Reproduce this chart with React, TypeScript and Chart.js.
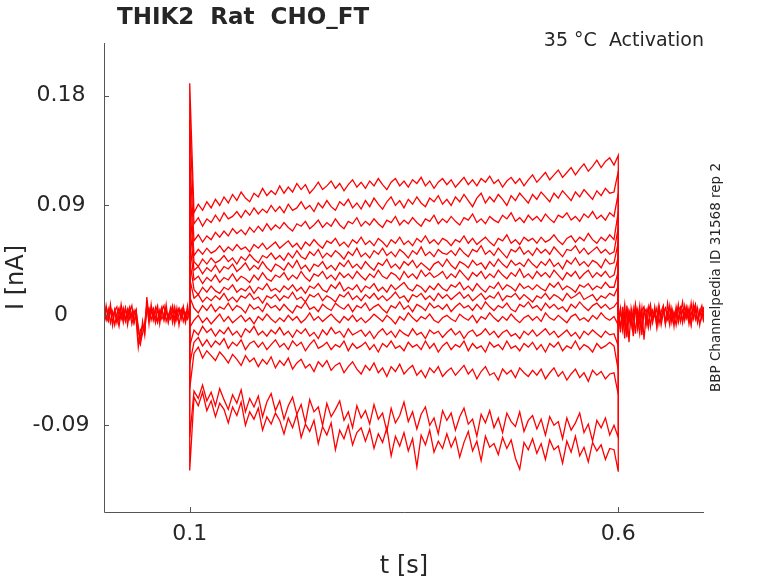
import React, { useEffect, useRef } from 'react';
import Chart from 'chart.js/auto';

// axis ticks
const xTicks = [0.1, 0.6];
const xTickLabels = ['0.1', '0.6'];
const yTicks = [-0.09, 0, 0.09, 0.18];
const yTickLabels = ['-0.09', '0', '0.09', '0.18'];

// sampling grids (s)
const preTimes = Array.from({ length: 41 }, (_, i) => i * 0.0025);
const postTimes = Array.from({ length: 41 }, (_, i) => 0.6 + i * 0.0025);
const stepTimes = Array.from({ length: 99 }, (_, i) => 0.105 + i * 0.005);

// all currents below in pA
const preA = [2, -4, 5, -6, 3, -8, 1, 6, -3, 4, -5, 2, 7, -2, 4, -4, -26, -12, -9, -14, 15, -1, 5, -3, 6, -5, 2, 7, -4, 3, -2, 6, -6, 4, -1, 5, -3, 7, -5, 2, 0];
const preB = [-3, 6, -2, 4, -7, 5, -1, -9, 3, -6, 6, -2, 4, -7, 1, 5, -14, -18, -8, -11, 4, 6, -4, 3, -6, 5, -2, 4, 8, -5, 1, -3, 5, -7, 3, 6, -2, 4, -6, 3, -1];
const preC = [5, -1, -5, 7, 0, 3, -6, 4, -2, 6, -4, 5, -3, 2, -6, 3, -9, -22, -15, -6, 8, -4, 2, 6, -1, -6, 4, -3, 1, 6, -5, 3, -2, 7, -4, 1, 5, -5, 2, -3, 4];
const preD = [-6, 8, -3, 9, -8, 4, 7, -5, 9, -2, 6, -8, 3, 8, -6, 2, -20, -24, -5, -16, 11, -7, 9, -4, 3, 8, -7, 5, -3, 9, -6, 2, 8, -4, 6, -8, 3, 7, -2, 8, -5];

const postA = [-5, 6, -12, 3, -18, 2, -9, 5, -15, 4, -7, 6, -20, 1, -10, 3, -6, 7, -4, 5, -8, 2, 6, -3, 8, -6, 3, -2, 9, -5, 4, -1, 7, -4, 10, -3, 5, -6, 3, 8, -2];
const postB = [4, -14, 7, -8, 5, -22, 6, -4, 8, -11, 3, -16, 5, -2, 7, -9, 4, -1, 6, -7, 3, 8, -5, 2, -8, 6, -3, 5, -6, 2, 11, -4, 6, -7, 3, -2, 8, -5, 4, -3, 6];
const postC = [-9, 3, -5, 9, -13, 4, -2, -17, 6, -4, 8, -12, 2, 5, -8, 6, -3, 4, -10, 7, -1, 5, -7, 3, 6, -4, 1, -8, 4, 7, -5, 2, -3, 6, -8, 4, 9, -4, 1, 5, -6];
const postD = [6, -10, 2, -19, 8, -6, 3, -13, 9, -2, -15, 4, 7, -8, 2, 9, -5, 3, -9, 8, -4, 6, -7, 10, -2, 4, -9, 7, -3, 5, -6, 8, -1, 4, -7, 9, -3, 6, -8, 2, 7];

const onsetPeaks = [190, 160, 130, 110, 90, 75, 60, 45, 30, 15, -10, -25, -40, -60, -100, -127];
const offsetPeaks = [131, 118, 100, 85, 72, 60, 48, 36, 24, 12, -8, -25, -45, -65, -100, -128];

const trace1 = [84, 91, 86, 93, 88, 95, 90, 97, 92, 99, 94, 101, 96, 93, 100, 97, 104, 98, 102, 99,
  106, 100, 105, 101, 108, 103, 107, 100, 104, 109, 103, 106, 110, 104, 108, 102, 107, 111, 105, 109,
  104, 110, 106, 112, 107, 103, 109, 112, 106, 110, 105, 111, 108, 113, 106, 110, 104, 109, 112, 107,
  111, 105, 109, 113, 107, 111, 106, 112, 109, 114, 108, 111, 105, 110, 113, 108, 112, 106, 111, 115,
  109, 113, 117, 111, 115, 119, 113, 117, 121, 115, 120, 124, 118, 122, 127, 121, 126, 129, 123];
const trace2 = [75, 80, 73, 79, 76, 82, 77, 84, 79, 81, 85, 80, 86, 82, 88, 83, 87, 84, 90, 85,
  89, 84, 91, 86, 88, 93, 87, 90, 85, 92, 88, 94, 89, 86, 93, 90, 95, 88, 92, 87,
  94, 89, 96, 91, 87, 93, 97, 90, 94, 88, 95, 91, 97, 92, 89, 96, 93, 98, 91, 95,
  90, 97, 93, 99, 94, 89, 96, 100, 92, 97, 93, 99, 95, 90, 98, 94, 100, 96, 92, 99,
  95, 101, 97, 93, 100, 96, 102, 98, 94, 101, 97, 103, 99, 95, 102, 98, 104, 100, 101];
const trace3 = [61, 66, 60, 65, 62, 68, 64, 69, 65, 71, 67, 70, 66, 72, 68, 73, 69, 75, 70, 74,
  71, 76, 72, 69, 75, 73, 77, 71, 74, 78, 72, 76, 73, 79, 74, 71, 77, 75, 80, 73,
  77, 74, 79, 75, 72, 78, 76, 81, 74, 78, 75, 80, 76, 73, 79, 77, 82, 75, 79, 76,
  81, 77, 74, 80, 78, 83, 76, 79, 75, 81, 78, 76, 82, 79, 84, 77, 80, 76, 82, 78,
  81, 77, 83, 79, 76, 82, 80, 84, 78, 81, 77, 83, 80, 85, 79, 82, 78, 84, 81];
const trace4 = [49, 54, 50, 55, 51, 53, 57, 52, 56, 53, 58, 54, 56, 52, 58, 55, 59, 54, 57, 60,
  55, 58, 61, 56, 59, 54, 60, 57, 62, 58, 55, 61, 59, 63, 57, 60, 56, 62, 59, 64,
  58, 61, 57, 63, 60, 56, 62, 59, 64, 58, 61, 57, 63, 60, 65, 59, 62, 58, 63, 61,
  57, 62, 60, 65, 59, 63, 58, 61, 64, 60, 57, 63, 61, 66, 59, 62, 58, 64, 61, 63,
  59, 64, 60, 62, 66, 61, 58, 63, 65, 60, 64, 61, 67, 62, 59, 64, 61, 66, 62];
const trace5 = [44, 40, 46, 42, 47, 43, 45, 49, 44, 47, 42, 48, 45, 50, 46, 43, 49, 47, 51, 46,
  49, 45, 51, 47, 53, 48, 46, 52, 49, 54, 47, 51, 48, 53, 50, 46, 52, 49, 55, 48,
  51, 47, 53, 50, 55, 49, 52, 48, 54, 51, 47, 53, 50, 56, 49, 52, 48, 54, 51, 50,
  53, 49, 55, 51, 48, 54, 52, 57, 50, 53, 49, 55, 51, 47, 54, 52, 56, 50, 53, 49,
  55, 51, 54, 50, 56, 52, 48, 54, 53, 57, 51, 55, 50, 53, 56, 51, 54, 50, 52];
const trace6 = [37, 40, 34, 39, 36, 41, 35, 40, 38, 42, 36, 39, 43, 37, 41, 38, 44, 39, 36, 42,
  40, 37, 43, 39, 45, 38, 41, 36, 42, 40, 44, 38, 41, 37, 43, 40, 45, 39, 42, 38,
  44, 40, 37, 43, 41, 46, 39, 42, 38, 44, 41, 45, 39, 43, 40, 37, 42, 44, 40, 46,
  41, 38, 44, 42, 39, 45, 41, 43, 38, 44, 40, 46, 42, 39, 45, 41, 43, 40, 46, 42,
  39, 44, 41, 46, 40, 43, 38, 45, 42, 47, 41, 44, 40, 45, 43, 39, 46, 42, 43];
const trace7 = [29, 32, 26, 31, 28, 33, 27, 31, 29, 34, 28, 32, 30, 27, 33, 29, 35, 30, 28, 33,
  31, 35, 29, 33, 30, 36, 31, 28, 34, 32, 36, 30, 33, 29, 35, 31, 34, 30, 36, 32,
  29, 34, 31, 37, 32, 30, 35, 33, 29, 36, 31, 34, 30, 37, 32, 35, 31, 33, 36, 30,
  34, 31, 37, 33, 29, 35, 32, 36, 30, 34, 31, 37, 33, 30, 35, 32, 38, 31, 34, 30,
  36, 32, 35, 31, 37, 33, 29, 35, 32, 36, 30, 34, 37, 31, 35, 32, 36, 31, 33];
const trace8 = [21, 17, 23, 19, 24, 20, 18, 23, 21, 25, 19, 22, 20, 24, 18, 23, 21, 26, 20, 22,
  19, 24, 21, 25, 20, 23, 18, 24, 22, 26, 21, 19, 25, 22, 27, 20, 23, 21, 25, 19,
  24, 22, 26, 20, 23, 19, 25, 21, 24, 27, 22, 20, 25, 23, 19, 24, 21, 26, 22, 20,
  25, 23, 27, 21, 24, 20, 26, 22, 19, 24, 22, 27, 21, 25, 23, 20, 26, 22, 24, 21,
  25, 22, 20, 26, 23, 27, 21, 24, 22, 19, 25, 23, 26, 21, 24, 22, 27, 23, 23];
const trace9 = [14, 17, 11, 15, 12, 16, 13, 18, 12, 15, 11, 16, 14, 18, 13, 15, 10, 16, 14, 17,
  12, 16, 14, 19, 13, 15, 11, 17, 15, 18, 12, 16, 14, 11, 17, 15, 19, 13, 16, 12,
  17, 14, 18, 13, 16, 12, 15, 19, 14, 16, 11, 17, 15, 18, 13, 16, 12, 18, 14, 17,
  13, 16, 19, 14, 17, 12, 15, 18, 13, 16, 14, 19, 12, 16, 15, 18, 13, 17, 14, 11,
  16, 14, 18, 13, 17, 15, 12, 18, 14, 16, 19, 13, 15, 17, 12, 16, 14, 18, 16];
const trace10 = [6, 2, 8, 4, 9, 3, 7, 5, 10, 4, 8, 6, 2, 9, 5, 7, 3, 10, 6, 8,
  4, 9, 5, 2, 8, 6, 11, 5, 7, 3, 9, 6, 4, 10, 7, 5, 9, 3, 8, 6,
  10, 4, 7, 9, 5, 2, 8, 6, 11, 5, 8, 3, 9, 7, 4, 10, 6, 8, 5, 9,
  3, 7, 10, 6, 8, 4, 9, 5, 11, 7, 4, 8, 6, 10, 5, 3, 9, 7, 11, 6,
  8, 4, 10, 6, 9, 5, 7, 3, 9, 6, 11, 7, 4, 8, 10, 6, 9, 5, 7];
const trace11 = [-4, 0, -6, -2, -7, -3, 1, -5, -1, -6, -3, 0, -5, -2, -7, -1, -4, 1, -3, -6,
  -2, -5, 0, -4, -1, -6, -3, 2, -4, -1, -5, -2, 1, -3, -6, -1, -4, 0, -5, -2,
  -6, -3, 1, -2, -5, 0, -3, -7, -1, -4, 2, -2, -5, -1, -3, 1, -4, -6, -2, 0,
  -3, -5, 1, -2, -4, 0, -6, -1, -3, 2, -2, -5, -1, -4, 1, -3, -6, -2, 0, -4,
  -1, -5, 2, -2, -4, 0, -3, -6, -1, 1, -4, -2, -5, 0, -3, 2, -2, -4, -1];
const trace12 = [-12, -16, -9, -14, -11, -17, -12, -15, -10, -16, -13, -18, -11, -14, -9, -16, -13, -17, -12, -15,
  -10, -16, -13, -18, -12, -15, -11, -17, -14, -19, -12, -16, -10, -15, -13, -18, -11, -16, -14, -12,
  -17, -13, -19, -14, -11, -16, -13, -18, -12, -15, -17, -11, -16, -14, -19, -12, -15, -13, -18, -14,
  -11, -16, -13, -19, -14, -12, -17, -15, -11, -16, -13, -18, -14, -12, -17, -15, -19, -13, -16, -12,
  -17, -14, -11, -16, -13, -18, -15, -12, -17, -14, -19, -13, -16, -12, -15, -18, -13, -16, -15];
const trace13 = [-22, -18, -25, -20, -26, -21, -24, -19, -27, -22, -25, -20, -28, -23, -21, -26, -22, -28, -24, -20,
  -26, -23, -28, -21, -25, -22, -29, -24, -20, -27, -25, -22, -28, -24, -26, -21, -29, -23, -27, -25,
  -22, -28, -24, -30, -23, -26, -21, -27, -25, -29, -22, -26, -24, -28, -21, -27, -23, -30, -25, -22,
  -28, -24, -26, -21, -29, -23, -27, -25, -30, -22, -26, -24, -28, -21, -27, -25, -29, -23, -26, -22,
  -28, -24, -30, -23, -26, -22, -29, -25, -27, -21, -28, -24, -26, -30, -23, -27, -25, -22, -25];
const trace14 = [-31, -26, -35, -29, -33, -37, -30, -34, -39, -32, -36, -41, -33, -38, -35, -42, -36, -40, -34, -43,
  -37, -41, -35, -44, -39, -36, -43, -40, -46, -38, -42, -37, -45, -41, -39, -47, -42, -38, -44, -48,
  -41, -45, -39, -47, -43, -50, -42, -46, -40, -48, -44, -41, -49, -45, -51, -43, -47, -42, -50, -46,
  -43, -49, -45, -41, -48, -44, -52, -46, -42, -49, -47, -53, -44, -48, -45, -51, -43, -47, -50, -45,
  -49, -44, -52, -47, -43, -50, -46, -53, -48, -44, -51, -47, -54, -45, -49, -46, -52, -48, -47];
const trace15 = [-62, -68, -57, -70, -63, -74, -60, -69, -77, -65, -72, -61, -79, -68, -75, -66, -83, -71, -64, -78,
  -70, -85, -74, -67, -81, -73, -88, -69, -79, -75, -90, -72, -83, -77, -70, -86, -79, -92, -74, -84,
  -78, -89, -73, -85, -80, -95, -76, -88, -82, -71, -87, -79, -93, -81, -75, -90, -84, -97, -78, -86,
  -80, -94, -83, -76, -89, -85, -99, -81, -88, -78, -92, -84, -96, -80, -87, -91, -79, -95, -86, -82,
  -93, -85, -98, -83, -90, -87, -101, -84, -94, -88, -80, -96, -89, -103, -86, -92, -84, -98, -90];
const trace16 = [-67, -74, -63, -78, -70, -83, -72, -77, -88, -75, -82, -71, -90, -79, -85, -76, -94, -83, -89, -80,
  -86, -97, -84, -92, -81, -100, -89, -95, -86, -105, -91, -98, -88, -110, -94, -101, -90, -106, -96, -92,
  -103, -93, -109, -97, -104, -92, -115, -99, -107, -96, -111, -101, -124, -98, -106, -94, -112, -103, -109, -97,
  -108, -100, -116, -104, -95, -111, -103, -119, -99, -108, -105, -114, -100, -109, -102, -117, -126, -104, -110, -101,
  -113, -105, -118, -102, -110, -107, -121, -103, -112, -99, -115, -108, -120, -104, -111, -106, -118, -109, -110];

const stepTraces = [trace1, trace2, trace3, trace4, trace5, trace6, trace7, trace8, trace9, trace10, trace11, trace12, trace13, trace14, trace15, trace16];
const preBaselines = [preA, preB, preC, preD];
const postBaselines = [postA, postB, postC, postD];

const FONT = '"DejaVu Sans", "Liberation Sans", sans-serif';
const TEXT = '#262626';
const RED = '#ff0000';

const toNA = (v: number) => v / 1000;

const framePlugin = {
  id: 'frame',
  afterDraw(chart: any) {
    const { ctx, chartArea: a, scales } = chart;
    const xs = scales.x;
    const ys = scales.y;
    ctx.save();
    ctx.strokeStyle = '#555555';
    ctx.lineWidth = 1;
    ctx.beginPath();
    ctx.moveTo(a.left + 0.5, a.top);
    ctx.lineTo(a.left + 0.5, a.bottom + 0.5);
    ctx.lineTo(a.right, a.bottom + 0.5);
    xTicks.forEach((v) => {
      const px = Math.round(xs.getPixelForValue(v)) + 0.5;
      ctx.moveTo(px, a.bottom);
      ctx.lineTo(px, a.bottom - 5);
    });
    yTicks.forEach((v) => {
      const py = Math.round(ys.getPixelForValue(v)) + 0.5;
      ctx.moveTo(a.left, py);
      ctx.lineTo(a.left + 5, py);
    });
    ctx.stroke();

    ctx.fillStyle = TEXT;
    ctx.textBaseline = 'middle';
    ctx.font = `22px ${FONT}`;
    ctx.textAlign = 'center';
    xTicks.forEach((v, i) => {
      ctx.fillText(xTickLabels[i], xs.getPixelForValue(v), a.bottom + 22);
    });
    yTicks.forEach((v, i) => {
      ctx.fillText(yTickLabels[i], a.left - 43, ys.getPixelForValue(v));
    });

    ctx.font = `24px ${FONT}`;
    ctx.fillText('t [s]', (a.left + a.right) / 2, a.bottom + 55);
    ctx.save();
    ctx.translate(17, (a.top + a.bottom) / 2);
    ctx.rotate(-Math.PI / 2);
    ctx.fillText('I [nA]', 0, 0);
    ctx.restore();

    ctx.font = `bold 23px ${FONT}`;
    ctx.textAlign = 'left';
    ctx.fillText('THIK2  Rat  CHO_FT', 117, 18);

    ctx.font = `19px ${FONT}`;
    ctx.textAlign = 'right';
    ctx.fillText('35 °C  Activation', a.right, 41);

    ctx.font = `13.5px ${FONT}`;
    ctx.textAlign = 'center';
    ctx.save();
    ctx.translate(716, (a.top + a.bottom) / 2);
    ctx.rotate(-Math.PI / 2);
    ctx.fillText('BBP Channelpedia ID 31568 rep 2', 0, 0);
    ctx.restore();

    ctx.restore();
  },
};

const lineStyle = {
  borderColor: RED,
  borderWidth: 1.3,
  pointRadius: 0,
  tension: 0,
  fill: false,
};

const CurrentTraces: React.FC = () => {
  const chartRef = useRef<HTMLCanvasElement>(null);
  const chartInstance = useRef<Chart | null>(null);

  useEffect(() => {
    document.body.style.margin = '0';
    if (chartInstance.current) {
      chartInstance.current.destroy();
    }
    if (!chartRef.current) return;
    const ctx = chartRef.current.getContext('2d');
    if (!ctx) return;

    const datasets: any[] = [];
    preBaselines.forEach((vals) => {
      datasets.push({ ...lineStyle, data: preTimes.map((t, i) => ({ x: t, y: toNA(vals[i]) })) });
    });
    postBaselines.forEach((vals) => {
      datasets.push({ ...lineStyle, data: postTimes.map((t, i) => ({ x: t, y: toNA(vals[i]) })) });
    });
    stepTraces.forEach((vals, k) => {
      const pts = [
        { x: 0.1, y: 0 },
        { x: 0.1, y: toNA(onsetPeaks[k]) },
        ...stepTimes.map((t, i) => ({ x: t, y: toNA(vals[i]) })),
        { x: 0.6, y: toNA(offsetPeaks[k]) },
        { x: 0.6, y: 0 },
      ];
      datasets.push({ ...lineStyle, data: pts });
    });

    // @ts-ignore
    chartInstance.current = new Chart(ctx, {
      type: 'line',
      data: { datasets },
      options: {
        responsive: false,
        maintainAspectRatio: false,
        animation: false,
        layout: { padding: { left: 104, top: 43, right: 74, bottom: 71 } },
        plugins: { legend: { display: false }, tooltip: { enabled: false } },
        scales: {
          x: { type: 'linear', min: 0, max: 0.7, display: false },
          y: { type: 'linear', min: -0.161, max: 0.223, display: false },
        },
      },
      plugins: [framePlugin],
    });

    return () => {
      if (chartInstance.current) {
        chartInstance.current.destroy();
        chartInstance.current = null;
      }
    };
  }, []);

  return <canvas ref={chartRef} width={778} height={583}></canvas>;
};

export default function App() {
  return (
    <div style={{ width: 778, height: 583, background: '#ffffff' }}>
      <CurrentTraces />
    </div>
  );
}
